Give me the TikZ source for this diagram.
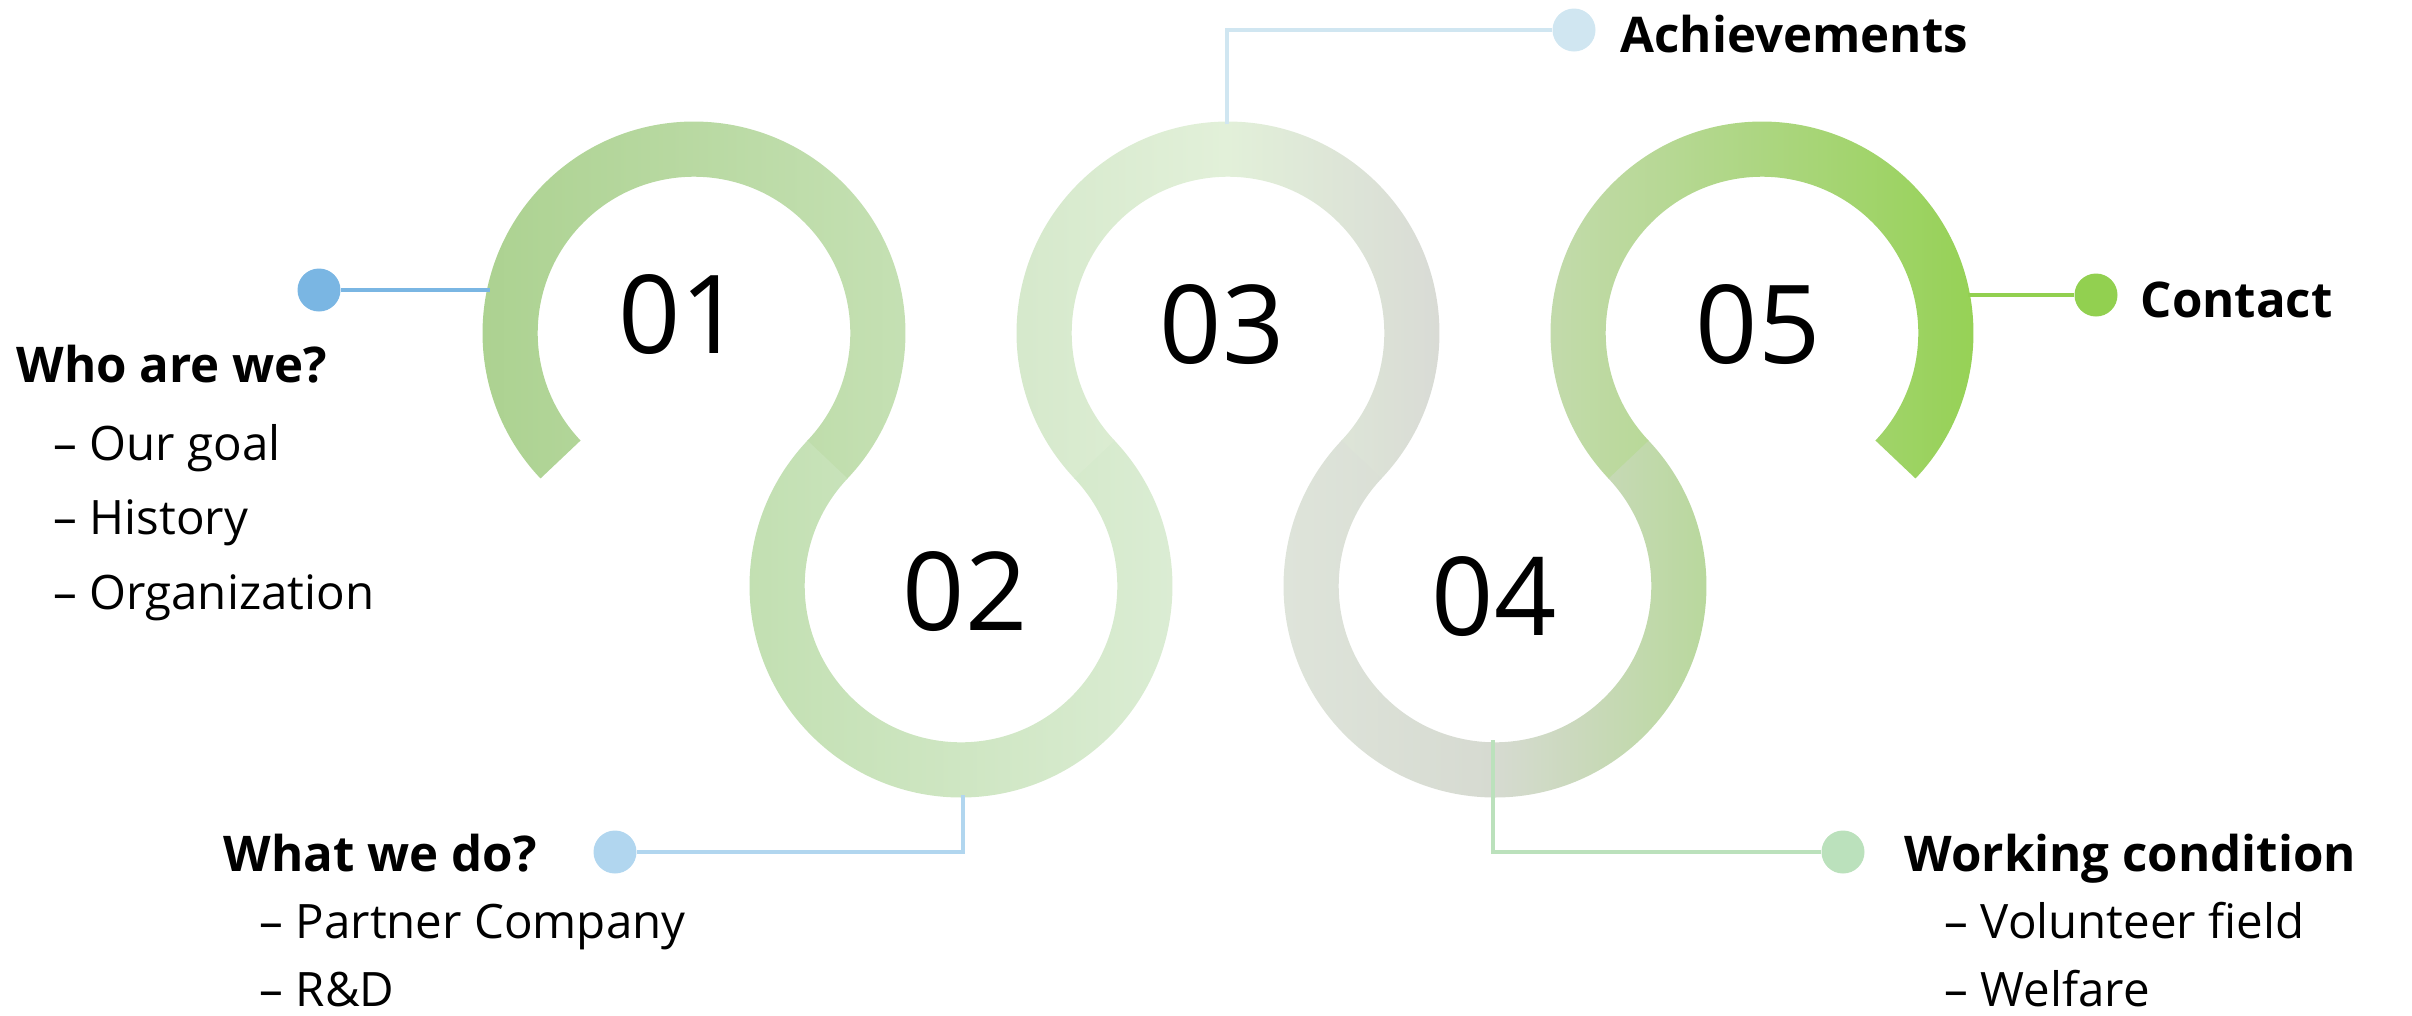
\documentclass[tikz,border=0pt]{standalone}
\usepackage{fontspec}
\setmainfont{Open Sans}
\usepackage{xcolor}
\usetikzlibrary{calc, graphs}
\definecolor{loopAl}{HTML}{ABD18F}
\definecolor{loopAr}{HTML}{C6E1B5}
\definecolor{loopBl}{HTML}{C1DFB0}
\definecolor{loopBr}{HTML}{DCEDD5}
\definecolor{loopCl}{HTML}{D4E8CA}
\definecolor{loopCm}{HTML}{E2F0D9}
\definecolor{loopCr}{HTML}{D8D9D5}
\definecolor{loopDl}{HTML}{DFE5DB}
\definecolor{loopDm}{HTML}{D6DAD1}
\definecolor{loopDr}{HTML}{B6D898}
\definecolor{loopEl}{HTML}{C5DBB0}
\definecolor{loopEr}{HTML}{94D152}
\definecolor{lineA}{HTML}{7AB6E3}
\definecolor{lineB}{HTML}{B1D6EF}
\definecolor{lineC}{HTML}{D0E6F1}
\definecolor{lineD}{HTML}{BBE1BC}
\definecolor{lineE}{HTML}{92D050}
\tikzset{
wire/.style={line width=1.4pt},
vh path/.style={to path={|- (\tikztotarget)}},
dot/.style={%
    circle,
    inner sep=0pt,
    minimum size=4.3mm
},
head/.style={%
    anchor=base west,inner sep=0pt,
    font=\fontsize{14}{17}\selectfont\bfseries
},
item/.style={%
    anchor=base west,inner sep=0pt,
    font=\fontsize{13.5}{16}\selectfont
},
num/.style={inner sep=0pt,font=\fontsize{31}{36}\selectfont},
}
\def\ro{2.115}
\def\ri{1.563}

\begin{document}
\begin{tikzpicture}
	\useasboundingbox (0,0) rectangle (24.12,-10.15);
	\coordinate (c1) at (6.94,-3.33);
	\coordinate (c2) at (9.61,-5.86);
	\coordinate (c3) at (12.28,-3.33);
	\coordinate (c4) at (14.95,-5.86);
	\coordinate (c5) at (17.62,-3.33);

	% the winding band
	\shade[left color=loopAl, right color=loopAr]
		($(c1)+(223.46:\ro)$) arc[start angle=223.46, end angle=-43.8, radius=\ro]
		-- ($(c1)+(-43.8:\ri)$) arc[start angle=-43.8, end angle=223.46, radius=\ri] -- cycle;
	\shade[left color=loopBl, right color=loopBr]
		($(c2)+(136.54:\ro)$) arc[start angle=136.54, end angle=403.8, radius=\ro]
		-- ($(c2)+(403.8:\ri)$) arc[start angle=403.8, end angle=136.54, radius=\ri] -- cycle;
	\shade[left color=loopCl, right color=loopCr, middle color=loopCm]
		($(c3)+(223.46:\ro)$) arc[start angle=223.46, end angle=-43.8, radius=\ro]
		-- ($(c3)+(-43.8:\ri)$) arc[start angle=-43.8, end angle=223.46, radius=\ri] -- cycle;
	\shade[left color=loopDl, right color=loopDr, middle color=loopDm]
		($(c4)+(136.54:\ro)$) arc[start angle=136.54, end angle=403.8, radius=\ro]
		-- ($(c4)+(403.8:\ri)$) arc[start angle=403.8, end angle=136.54, radius=\ri] -- cycle;
	\shade[left color=loopEl, right color=loopEr]
		($(c5)+(223.46:\ro)$) arc[start angle=223.46, end angle=-43.46, radius=\ro]
		-- ($(c5)+(-43.46:\ri)$) arc[start angle=-43.46, end angle=223.46, radius=\ri] -- cycle;

	\node[num] at (6.805,-3.15) (n1) {01};
	\node[num] at (9.65,-5.92) (n2) {02};
	\node[num] at (12.22,-3.25) (n3) {03};
	\node[num] at (14.94,-5.97) (n4) {04};
	\node[num] at (17.58,-3.25) (n5) {05};

	\coordinate (r1) at (4.90,-2.90);
	\coordinate (r2) at (9.63,-7.95);
	\coordinate (r3) at (12.27,-1.24);
	\coordinate (r4) at (14.93,-7.40);
	\coordinate (r5) at (19.68,-2.95);

	\node[dot,fill=lineA] at (3.19,-2.90) (dot1) {};
	\node[dot,fill=lineB] at (6.15,-8.52) (dot2) {};
	\node[dot,fill=lineC] at (15.74,-0.30) (dot3) {};
	\node[dot,fill=lineD] at (18.43,-8.52) (dot4) {};
	\node[dot,fill=lineE] at (20.96,-2.95) (dot5) {};

	\graph [use existing nodes] {
	dot1 --[wire, draw=lineA] r1;
	r2 --[wire, draw=lineB, vh path] dot2;
	r3 --[wire, draw=lineC, vh path] dot3;
	r4 --[wire, draw=lineD, vh path] dot4;
	r5 --[wire, draw=lineE] dot5;
	};

	\node[head] at (0.16,-3.82) (who) {Who are we?};
	\node[item] at (0.53,-4.60) (goal) {– Our goal};
	\node[item] at (0.53,-5.34) (hist) {– History};
	\node[item] at (0.53,-6.09) (org) {– Organization};

	\node[head] at (2.23,-8.71) (what) {What we do?};
	\node[item] at (2.59,-9.38) (partner) {– Partner Company};
	\node[item] at (2.59,-10.06) (rnd) {– R\&D};

	\node[head] at (16.20,-0.52) (achv) {Achievements};
	\node[head] at (21.40,-3.17) (contact) {Contact};

	\node[head] at (19.04,-8.71) (work) {Working condition};
	\node[item] at (19.44,-9.38) (vol) {– Volunteer field};
	\node[item] at (19.44,-10.06) (welf) {– Welfare};

\end{tikzpicture}
\end{document}
